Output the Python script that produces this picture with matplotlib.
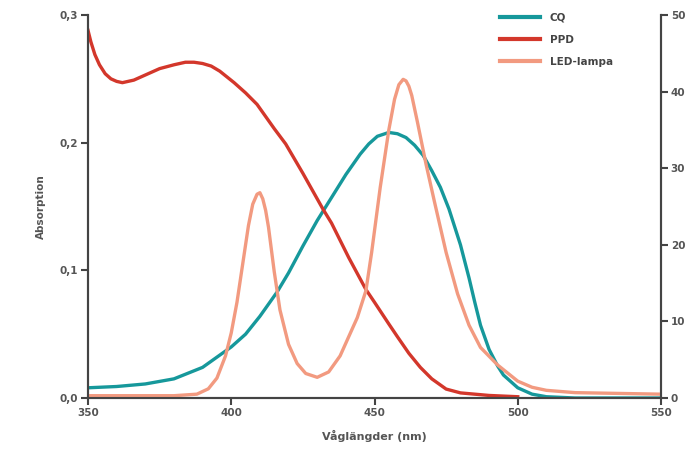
import matplotlib
matplotlib.use("Agg")
import matplotlib.pyplot as plt

# CQ absorption (left axis)
cq_x = [350, 360, 370, 380, 390, 400, 405, 410, 416, 420, 425, 430, 435, 440, 445,
        448, 451, 455, 458, 461, 464, 467, 470, 473, 476, 480, 483, 485, 487, 490, 493,
        495, 500, 505, 510, 520, 550]
cq_y = [0.008, 0.009, 0.011, 0.015, 0.024, 0.040, 0.050, 0.064, 0.083, 0.098, 0.119, 0.139,
        0.157, 0.175, 0.191, 0.199, 0.205, 0.208, 0.207, 0.204, 0.198, 0.190, 0.178, 0.165,
        0.148, 0.120, 0.094, 0.075, 0.057, 0.038, 0.025, 0.018, 0.008, 0.003, 0.001, 0.0, 0.0]

# PPD absorption (left axis)
ppd_x = [350, 351, 352.4, 354, 356, 358, 360, 362, 366, 370, 375, 380, 384, 387, 390, 393,
         396, 401, 405, 409, 415, 419, 425, 432, 435, 441, 447, 450, 455, 458, 462, 466,
         470, 475, 480, 490, 500]
ppd_y = [0.288, 0.279, 0.269, 0.261, 0.254, 0.250, 0.248, 0.247, 0.249, 0.253, 0.258, 0.261,
         0.263, 0.263, 0.262, 0.260, 0.256, 0.247, 0.239, 0.230, 0.211, 0.199, 0.176, 0.148,
         0.137, 0.110, 0.085, 0.075, 0.058, 0.048, 0.035, 0.024, 0.015, 0.007, 0.004, 0.002,
         0.001]

# LED-lampa emission (right axis)
led_x = [350, 380, 388, 392, 395, 398, 400, 402, 404, 406, 407.5, 409, 410, 411, 412, 413,
         415, 417, 420, 423, 426, 430, 434, 438, 441, 444, 447, 449, 452, 455, 457, 458.5,
         460, 461, 462, 463, 465, 468, 471, 475, 479, 483, 487, 493, 500, 505, 510, 520, 550]
led_y = [0.3, 0.3, 0.5, 1.2, 2.6, 5.5, 8.5, 12.5, 17.5, 22.5, 25.3, 26.6, 26.8, 26.0, 24.5,
         22.3, 16.5, 11.5, 7.0, 4.5, 3.2, 2.7, 3.4, 5.5, 8.0, 10.5, 14.0, 19.0, 27.5, 35.0,
         39.0, 40.9, 41.6, 41.4, 40.7, 39.5, 36.0, 30.5, 25.5, 19.0, 13.6, 9.5, 6.6, 4.3,
         2.2, 1.4, 1.0, 0.7, 0.5]

xticks = [350, 400, 450, 500, 550]
lticks = [0.0, 0.1, 0.2, 0.3]
rticks = [0, 10, 20, 30, 40, 50]

c_cq = "#16989b"
c_ppd = "#d3372b"
c_led = "#f29a80"
grey = "#444444"
fnt = ["Liberation Sans Narrow", "DejaVu Sans"]

fig = plt.figure(figsize=(6.99, 4.54), dpi=100)
ax = fig.add_axes([88/699, 1-398/454, (661-88)/699, (398-15)/454])
ax2 = ax.twinx()

l1, = ax.plot(cq_x, cq_y, color=c_cq, lw=2.4, label="CQ")
l2, = ax.plot(ppd_x, ppd_y, color=c_ppd, lw=2.4, label="PPD")
l3, = ax2.plot(led_x, led_y, color=c_led, lw=2.4, label="LED-lampa")

ax.set_xlim(350, 550)
ax.set_ylim(0, 0.3)
ax2.set_ylim(0, 50)
ax.set_xticks(xticks)
ax.set_yticks(lticks)
ax.set_yticklabels([("%.1f" % v).replace(".", ",") for v in lticks])
ax2.set_yticks(rticks)

for a in (ax, ax2):
    a.spines["top"].set_visible(False)
    for s in a.spines.values():
        s.set_color(grey)
        s.set_linewidth(1.5)
    a.tick_params(direction="out", length=5, width=1.5, color=grey,
                  labelsize=7.5, labelcolor="#555555", pad=2)
    for t in a.get_xticklabels() + a.get_yticklabels():
        t.set_fontweight("bold")
        t.set_family(fnt)

ax.set_ylabel("Absorption", fontsize=7.5, fontweight="bold", color="#555555",
              family=fnt, labelpad=10)
ax.set_xlabel("Våglängder (nm)", fontsize=8, fontweight="bold", color="#555555",
              family=fnt, labelpad=9)

leg = fig.legend(handles=[l1, l2, l3], loc="upper left",
                 bbox_to_anchor=(500/699, 1-13/454), frameon=False,
                 borderpad=0, borderaxespad=0, handlelength=3.8,
                 handletextpad=1.0, labelspacing=1.15,
                 prop={"family": fnt, "weight": "bold", "size": 7.5})
for t in leg.get_texts():
    t.set_color("#444444")
for h in leg.legend_handles:
    h.set_linewidth(3)

fig.savefig("out.png", dpi=100)
